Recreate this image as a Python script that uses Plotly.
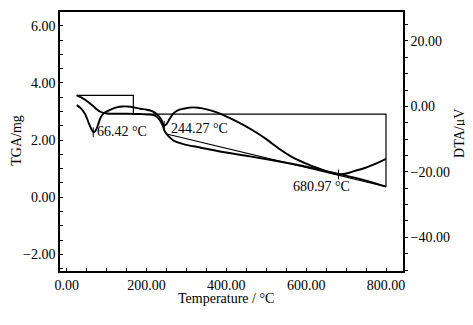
import plotly.graph_objects as go

# ---------------- data ----------------
tga_temp = [25, 35, 46, 57, 67, 75, 83, 92, 100, 120, 150, 184, 209, 222, 232, 240,
            246, 252, 260, 270, 292, 334, 384, 459, 560, 620, 687, 750, 800]
tga_mass = [3.56, 3.50, 3.41, 3.30, 3.18, 3.08, 3.00, 2.95, 2.93, 2.92, 2.92, 2.91, 2.89,
            2.85, 2.72, 2.52, 2.30, 2.18, 2.07, 1.96, 1.86, 1.74, 1.60, 1.43, 1.18, 1.01,
            0.80, 0.58, 0.37]

step_temp = [25, 167, 167, 800, 800]
step_mass = [3.56, 3.56, 2.91, 2.91, 0.37]

tangent_temp = [248, 800]
tangent_mass = [2.22, 0.37]

dta_temp = [25, 35, 46, 55, 62, 67, 72, 78, 85, 92, 100, 110, 125, 140, 160, 184, 200,
            215, 228, 237, 244, 250, 258, 267, 278, 292, 305, 317, 330, 351, 376, 409,
            440, 470, 500, 534, 565, 597, 635, 660, 681, 700, 722, 745, 770, 800]
dta_uv = [0.4, -0.5, -2.3, -5.0, -7.0, -7.9, -7.5, -5.8, -3.4, -2.2, -1.6, -1.0, -0.3,
          0.0, -0.1, -0.7, -1.0, -1.5, -2.6, -4.0, -5.9, -5.4, -3.8, -2.2, -1.2, -0.7,
          -0.4, -0.3, -0.4, -0.9, -1.8, -3.6, -5.5, -7.6, -10.0, -13.1, -15.5, -17.3,
          -19.1, -20.2, -20.8, -20.5, -19.7, -18.9, -17.7, -16.0]

dip_temp = [66.42, 244.27, 680.97]
dip_uv = [-7.9, -5.9, -20.8]

x_ticks = [0, 200, 400, 600, 800]
tga_ticks = [-2, 0, 2, 4, 6]
dta_ticks = [-40, -20, 0, 20]

FONT = "Liberation Serif, Times New Roman, serif"

fig = go.Figure()

fig.add_trace(go.Scatter(x=step_temp, y=step_mass, mode="lines",
                         line=dict(color="black", width=1.2), yaxis="y"))
fig.add_trace(go.Scatter(x=tangent_temp, y=tangent_mass, mode="lines",
                         line=dict(color="black", width=1.2), yaxis="y"))
fig.add_trace(go.Scatter(x=tga_temp, y=tga_mass, mode="lines",
                         line=dict(color="black", width=1.9, shape="spline", smoothing=0.8),
                         yaxis="y"))
fig.add_trace(go.Scatter(x=dta_temp, y=dta_uv, mode="lines",
                         line=dict(color="black", width=1.9, shape="spline", smoothing=0.8),
                         yaxis="y2"))
fig.add_trace(go.Scatter(x=dip_temp, y=dip_uv, mode="markers",
                         marker=dict(symbol="line-ns", size=7,
                                     line=dict(color="black", width=1)),
                         yaxis="y2"))

label_pos = [(70, 2.29), (256, 2.41), (561, 0.39)]
annotations = []
for t, (ax_, ay_) in zip(dip_temp, label_pos):
    annotations.append(dict(x=ax_, y=ay_, xref="x", yref="y", text=f"{t:.2f} °C",
                            showarrow=False, xanchor="left", yanchor="middle",
                            font=dict(family=FONT, size=14, color="black")))

annotations += [
    dict(x=-0.126, y=0.506, xref="paper", yref="paper", text="TGA/mg", textangle=-90,
         xanchor="center", yanchor="middle",
         showarrow=False, font=dict(family=FONT, size=14, color="black")),
    dict(x=1.166, y=0.533, xref="paper", yref="paper", text="DTA/μV", textangle=-90,
         xanchor="center", yanchor="middle",
         showarrow=False, font=dict(family=FONT, size=14, color="black")),
    dict(x=0.484, y=-0.108, xref="paper", yref="paper", text="Temperature / °C",
         xanchor="center", yanchor="middle",
         showarrow=False, font=dict(family=FONT, size=14, color="black")),
]

# the page body adds an 8px offset, so the figure is 8px smaller and shifted
fig.update_layout(
    width=465, height=317,
    margin=dict(l=52, r=70, t=4, b=54),
    paper_bgcolor="white", plot_bgcolor="white",
    showlegend=False, hovermode=False,
    font=dict(family=FONT, size=14, color="black"),
    xaxis=dict(range=[-16.8, 842.6], tickvals=x_ticks, tickformat=".2f",
               showline=True, linecolor="black", linewidth=1.5, mirror=True,
               showgrid=False, zeroline=False, ticks="inside", ticklen=3,
               tickcolor="black", automargin=False,
               minor=dict(dtick=50, ticks="inside", ticklen=3, tickcolor="black")),
    yaxis=dict(range=[-2.58, 6.48], tickvals=tga_ticks, tickformat=".2f",
               showline=True, linecolor="black", linewidth=1.5,
               showgrid=False, zeroline=False, ticks="inside", ticklen=3,
               tickcolor="black", automargin=False,
               minor=dict(dtick=0.5, ticks="inside", ticklen=3, tickcolor="black")),
    yaxis2=dict(range=[-50.3, 28.86], tickvals=dta_ticks, tickformat=".2f",
                overlaying="y", side="right",
                showline=True, linecolor="black", linewidth=1.5,
                showgrid=False, zeroline=False, ticks="outside", ticklen=3,
                tickcolor="black", automargin=False,
                minor=dict(dtick=5, ticks="outside", ticklen=3, tickcolor="black")),
    annotations=annotations,
)

fig.write_html("out.html")
